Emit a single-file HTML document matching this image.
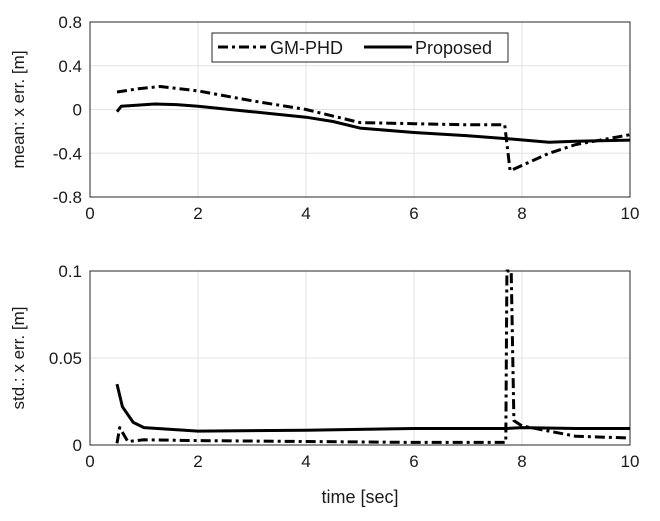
<!DOCTYPE html>
<html><head><meta charset="utf-8"><style>
body{margin:0;background:#fff}
svg text{font-family:"Liberation Sans",sans-serif;fill:#1a1a1a}
</style></head><body>
<svg width="660" height="516" id="svg"></svg>
<script>
const tickX=[0,2,4,6,8,10];
const topTicks=[0.8,0.4,0,-0.4,-0.8];
const botTicks=[0.1,0.05,0];
const topT_gm=[0.5,0.9,1.3,2,3,4,5,6,7,7.68,7.78,8.5,9,10];
const topV_gm=[0.16,0.19,0.21,0.17,0.08,0.0,-0.12,-0.13,-0.14,-0.14,-0.56,-0.4,-0.32,-0.23];
const topT_pr=[0.5,0.58,1.2,1.6,2,3,4,4.5,5,6,7,7.8,8.5,9,10];
const topV_pr=[-0.02,0.03,0.05,0.045,0.03,-0.02,-0.07,-0.11,-0.17,-0.21,-0.24,-0.27,-0.3,-0.29,-0.28];
const botT_pr=[0.5,0.6,0.8,1,2,4,6,7.7,8,9,10];
const botV_pr=[0.035,0.022,0.013,0.01,0.008,0.0085,0.0095,0.0095,0.01,0.0095,0.0095];
const botT_gm=[0.5,0.55,0.7,1,2,4,6,7.7,7.72,7.8,7.85,8,9,10];
const botV_gm=[0.001,0.01,0.002,0.003,0.0025,0.002,0.0015,0.0015,0.1,0.1,0.014,0.011,0.005,0.004];
const NS="http://www.w3.org/2000/svg",svg=document.getElementById('svg');
function mk(tag,attrs,parent){const e=document.createElementNS(NS,tag);for(const k in attrs)e.setAttribute(k,attrs[k]);(parent||svg).appendChild(e);return e;}
const X0=90,X1=630;
function xs(t){return X0+(t-0)/(10-0)*(X1-X0);}
function panel(name,y0,y1,vmin,vmax,ticks,label,series,fmt){
 const ys=v=>y1-(Math.max(vmin,Math.min(vmax,v))-vmin)/(vmax-vmin)*(y1-y0);
 const g=mk('g',{});
 
 
 mk('rect',{x:X0,y:y0,width:X1-X0,height:y1-y0,fill:'#fff'},g);
 tickX.forEach(t=>{const l=mk('line',{x1:xs(t),x2:xs(t),y1:y0,y2:y1,stroke:'#e3e3e3'},g);
  
  const tx=mk('text',{x:xs(t),y:y1+22,'text-anchor':'middle','font-size':17},g);tx.textContent=t;
  });
 ticks.forEach(v=>{const l=mk('line',{x1:X0,x2:X1,y1:ys(v),y2:ys(v),stroke:'#e3e3e3'},g);
  
  const tx=mk('text',{x:X0-8,y:ys(v)+6,'text-anchor':'end','font-size':17},g);tx.textContent=fmt(v);
  });
 mk('rect',{x:X0,y:y0,width:X1-X0,height:y1-y0,fill:'none',stroke:'#262626','stroke-width':1},g);
 const yl=mk('text',{x:0,y:0,'text-anchor':'middle','font-size':17,transform:`translate(24,${(y0+y1)/2}) rotate(-90)`},g);
 yl.textContent=label;
 series.forEach(s=>{const d=s.t.map((t,i)=>(i?'L':'M')+xs(t).toFixed(1)+','+ys(s.v[i]).toFixed(1)).join('');
  const p=mk('path',{d:d,fill:'none',stroke:'#000','stroke-width':3,'stroke-dasharray':s.dash||'none','stroke-linejoin':'round'},g);
  });
}
panel('mean-panel',22,197,-0.8,0.8,topTicks,'mean: x err. [m]',[
 {t:topT_gm,v:topV_gm,dash:'10,4,3,4',name:'gm-phd-mean-line'},{t:topT_pr,v:topV_pr,name:'proposed-mean-line'}],v=>v===0?'0':v.toFixed(1));
panel('std-panel',271,445,0,0.1,botTicks,'std.: x err. [m]',[
 {t:botT_gm,v:botV_gm,dash:'10,4,3,4',name:'gm-phd-std-line'},{t:botT_pr,v:botV_pr,name:'proposed-std-line'}],v=>v===0?'0':String(v));
const xl=mk('text',{x:360,y:503,'text-anchor':'middle','font-size':18});xl.textContent='time [sec]';


const lg=mk('g',{});


mk('rect',{x:212,y:33,width:296,height:29,fill:'#fff',stroke:'#262626'},lg);
mk('line',{x1:218,x2:266,y1:47,y2:47,stroke:'#000','stroke-width':3,'stroke-dasharray':'10,4,3,4'},lg);
const t1=mk('text',{x:270,y:54,'font-size':18},lg);t1.textContent='GM-PHD';

mk('line',{x1:364,x2:412,y1:47,y2:47,stroke:'#000','stroke-width':3},lg);
const t2=mk('text',{x:415,y:54,'font-size':18},lg);t2.textContent='Proposed';

</script>
</body></html>
